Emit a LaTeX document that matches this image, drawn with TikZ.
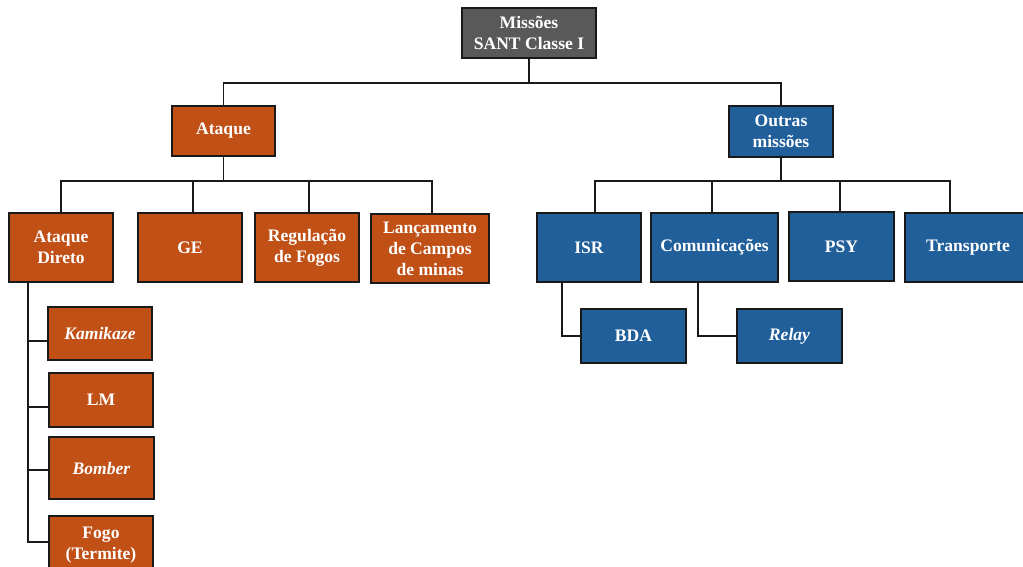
\documentclass[tikz,border=0pt]{standalone}
\usepackage{fontspec}
\setmainfont{Liberation Serif}
\definecolor{cinzaraiz}{RGB}{89,89,89}
\definecolor{laranjaataque}{RGB}{192,80,22}
\definecolor{azuloutras}{RGB}{33,95,155}

\begin{document}
\begin{tikzpicture}[x=0.02cm, y=-0.02cm,
		caixa/.style={draw=black!90, line width=0.9pt, text=white, align=center, inner sep=1pt,
			font=\fontsize{10}{12}\selectfont\bfseries},
		caixaraiz/.style={caixa, fill=cinzaraiz, minimum width=2.68cm, minimum height=1cm},
		caixalaranja/.style={caixa, fill=laranjaataque},
		caixaazul/.style={caixa, fill=azuloutras},
		ligacao/.style={line width=0.85pt, color=black!90}]
		\useasboundingbox (0,0) rectangle (1023,566);
		\clip (0,0) rectangle (1023,566);
		\node[caixaraiz] (raiz) at (529,33) {Missões\\SANT Classe I};
		\node[caixalaranja, minimum width=2.06cm, minimum height=1cm] (ataque) at (223.5,131) {Ataque};
		\node[caixaazul, minimum width=2.08cm, minimum height=1.02cm] (outras) at (781,131.5) {Outras\\missões};
		\node[caixalaranja, minimum width=2.08cm, minimum height=1.38cm] (direto) at (61,247.5) {Ataque\\Direto};
		\node[caixalaranja, minimum width=2.08cm, minimum height=1.38cm] (ge) at (190,247.5) {GE};
		\node[caixalaranja, minimum width=2.08cm, minimum height=1.38cm] (regulacao) at (307,247.5) {Regulação\\de Fogos};
		\node[caixalaranja, minimum width=2.36cm, minimum height=1.38cm] (lancamento) at (430,248.5) {Lançamento\\de Campos\\de minas};
		\node[caixalaranja, minimum width=2.08cm, minimum height=1.06cm] (kamikaze) at (100,333.5) {\textit{Kamikaze}};
		\node[caixalaranja, minimum width=2.08cm, minimum height=1.08cm] (lm) at (101,400) {LM};
		\node[caixalaranja, minimum width=2.1cm, minimum height=1.24cm] (bomber) at (101.5,468) {\textit{Bomber}};
		\node[caixalaranja, minimum width=2.08cm, minimum height=1.16cm] (fogo) at (101,545) {Fogo\\(Termite)};
		\node[caixaazul, minimum width=2.08cm, minimum height=1.38cm] (isr) at (589,247.5) {ISR};
		\node[caixaazul, minimum width=2.54cm, minimum height=1.38cm] (comunic) at (714.5,247.5) {Comunicações};
		\node[caixaazul, minimum width=2.1cm, minimum height=1.38cm] (psy) at (841.5,246.5) {PSY};
		\node[caixaazul, minimum width=2.52cm, minimum height=1.38cm] (transporte) at (968,247.5) {Transporte};
		\node[caixaazul, minimum width=2.1cm, minimum height=1.08cm] (bda) at (633.5,336) {BDA};
		\node[caixaazul, minimum width=2.1cm, minimum height=1.08cm] (relay) at (789.5,336) {\textit{Relay}};
		\coordinate (barradireto) at (28,282);
		\draw[ligacao] (raiz.south) -- ++(0,24) -| (ataque.north);
		\draw[ligacao] (raiz.south) -- ++(0,24) -| (outras.north);
		\draw[ligacao] (ataque.south) -- ++(0,24) -| (direto.north);
		\draw[ligacao] (ataque.south) -- ++(0,24) -| ([xshift=0.06cm]ge.north);
		\draw[ligacao] (ataque.south) -- ++(0,24) -| ([xshift=0.04cm]regulacao.north);
		\draw[ligacao] (ataque.south) -- ++(0,24) -| ([xshift=0.04cm]lancamento.north);
		\draw[ligacao] (outras.south) -- ++(0,23) -| ([xshift=0.12cm]isr.north);
		\draw[ligacao] (outras.south) -- ++(0,23) -| ([xshift=-0.05cm]comunic.north);
		\draw[ligacao] (outras.south) -- ++(0,23) -| ([xshift=-0.03cm]psy.north);
		\draw[ligacao] (outras.south) -- ++(0,23) -| ([xshift=-0.36cm]transporte.north);
		\draw[ligacao] (barradireto) |- ([yshift=-0.15cm]kamikaze.west);
		\draw[ligacao] (barradireto) |- ([yshift=-0.14cm]lm.west);
		\draw[ligacao] (barradireto) |- ([yshift=-0.04cm]bomber.west);
		\draw[ligacao] (barradireto) |- ([yshift=0.06cm]fogo.west);
		\draw[ligacao] ([xshift=-0.54cm]isr.south) |- (bda.west);
		\draw[ligacao] ([xshift=-0.33cm]comunic.south) |- (relay.west);
	\end{tikzpicture}
\end{document}
